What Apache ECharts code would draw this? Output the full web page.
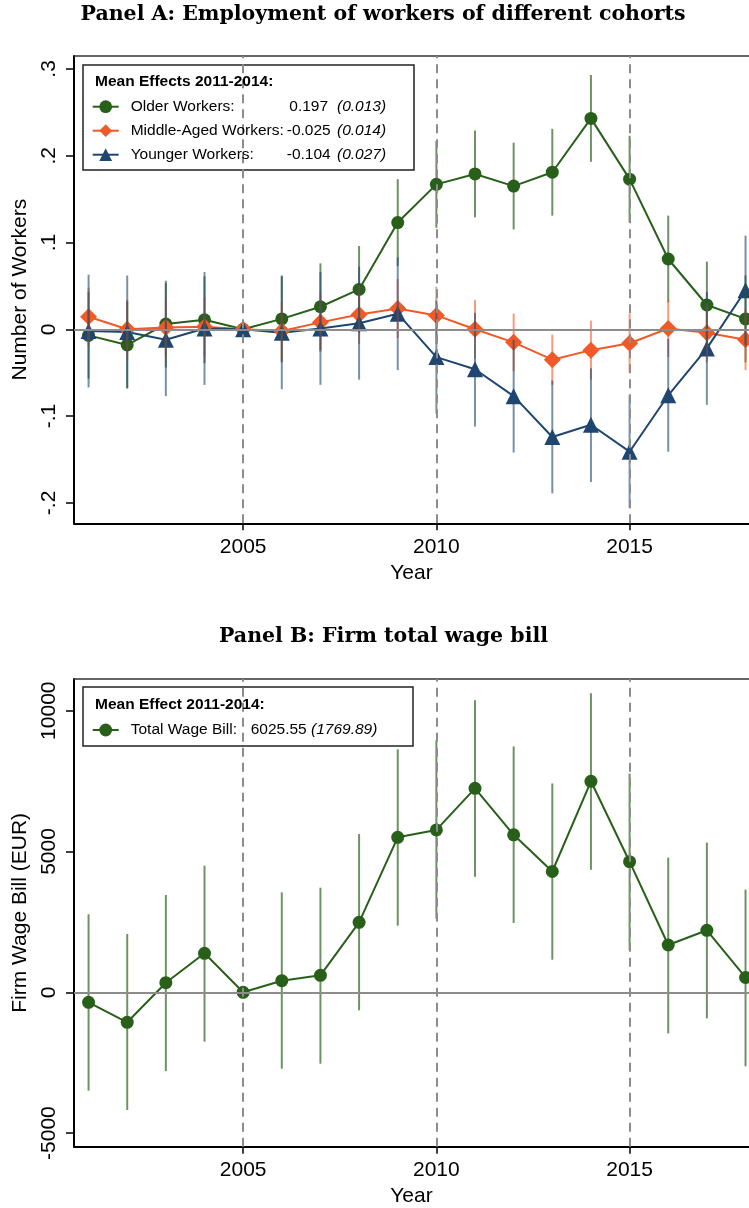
<!DOCTYPE html>
<html>
<head>
<meta charset="utf-8">
<script src="https://cdn.jsdelivr.net/npm/echarts@6/dist/echarts.min.js"></script>
<style>
  html, body { margin: 0; padding: 0; background: #fff; }
  #chart { width: 749px; height: 1208px; }
</style>
</head>
<body>
<div id="chart"></div>
<script>
// ---- data ----
const years = [2001, 2002, 2003, 2004, 2005, 2006, 2007, 2008, 2009, 2010, 2011, 2012, 2013, 2014, 2015, 2016, 2017, 2018];

// Panel A: event-study coefficients and 95% bands (2005 = reference year)
const olderEst = [-0.007, -0.018, 0.006, 0.011, 0, 0.012, 0.026, 0.046, 0.123, 0.167, 0.179, 0.165, 0.181, 0.243, 0.173, 0.081, 0.028, 0.012];
const olderLo  = [-0.057, -0.068, -0.044, -0.039, null, -0.038, -0.024, -0.004, 0.073, 0.117, 0.129, 0.115, 0.131, 0.193, 0.123, 0.031, -0.022, -0.038];
const olderHi  = [0.043, 0.032, 0.056, 0.061, null, 0.062, 0.076, 0.096, 0.173, 0.217, 0.229, 0.215, 0.231, 0.293, 0.223, 0.131, 0.078, 0.062];

const middleEst = [0.0145, 0, 0.002, 0.003, 0, -0.002, 0.008, 0.017, 0.024, 0.016, 0, -0.015, -0.035, -0.024, -0.016, 0.001, -0.004, -0.012];
const middleLo  = [-0.019, -0.034, -0.031, -0.031, null, -0.036, -0.026, -0.017, -0.010, -0.017, -0.034, -0.048, -0.064, -0.058, -0.050, -0.032, -0.038, -0.047];
const middleHi  = [0.048, 0.034, 0.035, 0.037, null, 0.032, 0.042, 0.051, 0.058, 0.049, 0.034, 0.018, -0.006, 0.010, 0.018, 0.034, 0.030, 0.023];

const youngerEst = [-0.002, -0.003, -0.012, 0.001, 0, -0.004, 0.001, 0.007, 0.018, -0.032, -0.046, -0.077, -0.124, -0.110, -0.141, -0.076, -0.022, 0.045];
const youngerLo  = [-0.067, -0.068, -0.077, -0.064, null, -0.069, -0.064, -0.058, -0.047, -0.097, -0.112, -0.142, -0.189, -0.176, -0.206, -0.141, -0.087, -0.018];
const youngerHi  = [0.063, 0.062, 0.053, 0.066, null, 0.061, 0.066, 0.072, 0.083, 0.033, 0.019, -0.012, -0.059, -0.045, -0.076, -0.011, 0.043, 0.108];

// Panel B: firm wage bill (EUR)
const wageEst = [-355, -1065, 341, 1385, 0, 412, 604, 2486, 5504, 5766, 7244, 5593, 4290, 7493, 4638, 1680, 2202, 526];
const wageLo  = [-3494, -4180, -2800, -1754, null, -2713, -2535, -639, 2365, 2614, 4101, 2464, 1158, 4350, 1495, -1460, -927, -2628];
const wageHi  = [2770, 2070, 3455, 4497, null, 3551, 3715, 5621, 8629, 8945, 10373, 8732, 7418, 10621, 7766, 4783, 5318, 3644];

// legend summaries
const cohortNames = ['Older Workers', 'Middle-Aged Workers', 'Younger Workers'];
const cohortMean  = ['0.197', '-0.025', '-0.104'];
const cohortSE    = ['(0.013)', '(0.014)', '(0.027)'];
const wageName = 'Total Wage Bill';
const wageMean = '6025.55';
const wageSE   = '(1769.89)';

// ticks
const xTicks = [2005, 2010, 2015];
const refYears = [2005, 2010, 2015];
const yTicksA = [-0.2, -0.1, 0, 0.1, 0.2, 0.3];
const yTickLabelsA = ['-.2', '-.1', '0', '.1', '.2', '.3'];
const yTicksB = [-5000, 0, 5000, 10000];
const yTickLabelsB = ['-5000', '0', '5000', '10000'];

// ---- styling ----
const FONT = '"Liberation Sans", Arial, Helvetica, sans-serif';
const SERIF = '"DejaVu Serif", "Liberation Serif", serif';
const GREEN = '#28601a';
const ORANGE = '#ef5a28';
const NAVY = '#1f4670';
const GREEN_CI = 'rgba(40,96,26,0.68)';
const ORANGE_CI = 'rgba(239,90,40,0.6)';
const NAVY_CI = 'rgba(31,70,112,0.6)';
const REF_GRAY = '#8c8c8c';

// the plotted window runs past the right edge of the page
const X_MIN = 2000.623, X_MAX = 2018.09;

function tickLabel(ticks, labels) {
  return function (v) {
    for (let i = 0; i < ticks.length; i++) {
      if (Math.abs(ticks[i] - v) < 1e-9) return labels[i];
    }
    return '';
  };
}

function xAxisCfg(gi) {
  return {
    type: 'value', gridIndex: gi, min: X_MIN, max: X_MAX,
    name: 'Year', nameLocation: 'middle', nameGap: 39,
    nameTextStyle: { fontFamily: FONT, fontSize: 21, color: '#000' },
    axisLine: { show: true, onZero: false, lineStyle: { color: '#000', width: 2 } },
    axisTick: { show: true, length: 7, customValues: xTicks, lineStyle: { color: '#000', width: 1.5 } },
    axisLabel: { show: true, customValues: xTicks, margin: 13, fontFamily: FONT, fontSize: 21, color: '#000',
                 formatter: v => String(v) },
    splitLine: { show: false }
  };
}

// plain frame line along the top of each plot region
function topAxisCfg(gi) {
  return {
    type: 'value', gridIndex: gi, position: 'top', min: X_MIN, max: X_MAX,
    axisLine: { show: true, onZero: false, lineStyle: { color: '#333', width: 1.5 } },
    axisTick: { show: false }, axisLabel: { show: false }, splitLine: { show: false }
  };
}

function yAxisCfg(gi, min, max, ticks, labels, name) {
  return {
    type: 'value', gridIndex: gi, min: min, max: max,
    name: name, nameLocation: 'middle', nameGap: 36, nameRotate: 90,
    nameTextStyle: { fontFamily: FONT, fontSize: 21, color: '#000' },
    axisLine: { show: true, onZero: false, lineStyle: { color: '#000', width: 2 } },
    axisTick: { show: true, length: 8, customValues: ticks, lineStyle: { color: '#000', width: 1.5 } },
    axisLabel: { show: true, customValues: ticks, rotate: 90, margin: 14, fontFamily: FONT, fontSize: 21, color: '#000',
                 formatter: tickLabel(ticks, labels) },
    splitLine: { show: false }
  };
}

// vertical confidence spikes
function ciSeries(name, lo, hi, color, gi) {
  const data = [];
  years.forEach((y, i) => { if (lo[i] != null) data.push([y, lo[i], hi[i]]); });
  return {
    type: 'custom', name: name, xAxisIndex: gi, yAxisIndex: gi, z: 4, silent: true,
    data: data, encode: { x: 0, y: [1, 2] },
    renderItem: function (params, api) {
      const a = api.coord([api.value(0), api.value(1)]);
      const b = api.coord([api.value(0), api.value(2)]);
      return { type: 'line', shape: { x1: a[0], y1: a[1], x2: b[0], y2: b[1] },
               style: { stroke: color, lineWidth: 2 } };
    }
  };
}

function lineSeries(name, est, color, symbol, size, gi) {
  return {
    type: 'line', name: name, xAxisIndex: gi, yAxisIndex: gi, z: 3, clip: false,
    data: years.map((y, i) => [y, est[i]]),
    symbol: symbol, symbolSize: size, showAllSymbol: true,
    lineStyle: { color: color, width: 2 },
    itemStyle: { color: color },
    emphasis: { disabled: true }
  };
}

// dashed reference years + zero line
function refSeries(gi) {
  const dashed = { color: REF_GRAY, width: 2, type: [9, 6] };
  return {
    type: 'line', name: 'ref' + gi, xAxisIndex: gi, yAxisIndex: gi, z: 1, silent: true,
    data: [], showSymbol: false,
    markLine: {
      silent: true, symbol: 'none', label: { show: false }, animation: false,
      data: refYears.map(y => ({ xAxis: y, lineStyle: dashed }))
        .concat([{ yAxis: 0, lineStyle: { color: REF_GRAY, width: 2, type: 'solid' } }])
    }
  };
}

const legendRich = {
  n: { fontFamily: FONT, fontSize: 15.5, color: '#000', width: 154, padding: [0, 0, 0, 7] },
  v: { fontFamily: FONT, fontSize: 15.5, color: '#000', width: 48, align: 'right' },
  s: { fontFamily: FONT, fontSize: 15.5, color: '#000', fontStyle: 'italic' }
};
const legendRichB = {
  n: { fontFamily: FONT, fontSize: 15.5, color: '#000', width: 120, padding: [0, 0, 0, 7] },
  v: { fontFamily: FONT, fontSize: 15.5, color: '#000' },
  s: { fontFamily: FONT, fontSize: 15.5, color: '#000', fontStyle: 'italic' }
};

const option = {
  animation: false,
  backgroundColor: '#fff',
  grid: [
    { left: 74, top: 56, right: 0, height: 467.3 },
    { left: 74, top: 679, right: 0, height: 467.7 }
  ],
  xAxis: [xAxisCfg(0), xAxisCfg(1), topAxisCfg(0), topAxisCfg(1)],
  yAxis: [
    yAxisCfg(0, -0.2235, 0.3149, yTicksA, yTickLabelsA, 'Number of Workers'),
    yAxisCfg(1, -5483, 11126, yTicksB, yTickLabelsB, 'Firm Wage Bill (EUR)')
  ],
  legend: [
    {
      orient: 'vertical', left: 86.7, top: 93.7, itemWidth: 26, itemHeight: 16, itemGap: 8, z: 7,
      selectedMode: false, data: cohortNames,
      textStyle: { fontFamily: FONT, fontSize: 15.5, color: '#000', rich: legendRich },
      formatter: name => {
        const i = cohortNames.indexOf(name);
        return '{n|' + name + ':}{v|' + cohortMean[i] + '} {s|' + cohortSE[i] + '}';
      }
    },
    {
      orient: 'vertical', left: 86.7, top: 717, itemWidth: 26, itemHeight: 16, itemGap: 8, z: 7,
      selectedMode: false, data: [wageName],
      textStyle: { fontFamily: FONT, fontSize: 15.5, color: '#000', rich: legendRichB },
      formatter: name => '{n|' + name + ':}{v|' + wageMean + '} {s|' + wageSE + '}'
    }
  ],
  graphic: [
    { type: 'text', x: 383, y: 14.5, z: 10,
      style: { text: 'Panel A: Employment of workers of different cohorts', font: 'bold 20.5px ' + SERIF,
               fill: '#000', textAlign: 'center', textVerticalAlign: 'middle' } },
    { type: 'text', x: 383.5, y: 637, z: 10,
      style: { text: 'Panel B: Firm total wage bill', font: 'bold 20.5px ' + SERIF,
               fill: '#000', textAlign: 'center', textVerticalAlign: 'middle' } },
    { type: 'rect', z: 5, shape: { x: 83, y: 65, width: 331, height: 105 },
      style: { fill: '#fff', stroke: '#222', lineWidth: 1.5 } },
    { type: 'text', x: 95, y: 81.7, z: 6,
      style: { text: 'Mean Effects 2011-2014:', font: 'bold 15.5px ' + FONT, fill: '#000', textVerticalAlign: 'middle' } },
    { type: 'rect', z: 5, shape: { x: 83, y: 687, width: 330, height: 59 },
      style: { fill: '#fff', stroke: '#222', lineWidth: 1.5 } },
    { type: 'text', x: 95, y: 705, z: 6,
      style: { text: 'Mean Effect 2011-2014:', font: 'bold 15.5px ' + FONT, fill: '#000', textVerticalAlign: 'middle' } }
  ],
  series: [
    refSeries(0),
    lineSeries(cohortNames[0], olderEst, GREEN, 'circle', 13, 0),
    lineSeries(cohortNames[1], middleEst, ORANGE, 'diamond', 17, 0),
    lineSeries(cohortNames[2], youngerEst, NAVY, 'triangle', 16, 0),
    ciSeries('Older CI', olderLo, olderHi, GREEN_CI, 0),
    ciSeries('Middle CI', middleLo, middleHi, ORANGE_CI, 0),
    ciSeries('Younger CI', youngerLo, youngerHi, NAVY_CI, 0),
    refSeries(1),
    lineSeries(wageName, wageEst, GREEN, 'circle', 13, 1),
    ciSeries('Wage CI', wageLo, wageHi, GREEN_CI, 1)
  ]
};

const chart = echarts.init(document.getElementById('chart'), null, { renderer: 'canvas' });
chart.setOption(option);
</script>
</body>
</html>
